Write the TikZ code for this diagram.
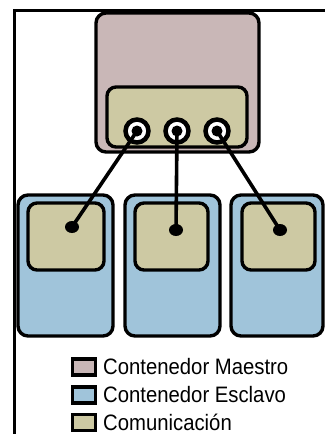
\documentclass[tikz,border=0pt]{standalone}
\usepackage{fontspec}
\setmainfont{Liberation Sans}
\usetikzlibrary{shapes.geometric}
\begin{document}
\begin{tikzpicture}[x=1pt,y=-1pt,
  master/.style={draw=black,line width=3.4pt,fill=masterc,rounded corners=10pt,inner sep=0pt},
  slave/.style={draw=black,line width=3.4pt,fill=slavec,rounded corners=10pt,inner sep=0pt},
  comm/.style={draw=black,line width=3.4pt,fill=commc,rounded corners=9pt,inner sep=0pt},
  port/.style={circle,draw=black,line width=4.5pt,fill=white,minimum size=23pt,inner sep=0pt},
  pin/.style={circle,fill=black,minimum size=11pt,inner sep=0pt},
  sdot/.style={ellipse,fill=black,minimum width=14pt,minimum height=12pt,inner sep=0pt},
  wire/.style={draw=black,line width=3.6pt},
  keybox/.style={draw=black,line width=3.4pt,minimum width=23pt,minimum height=16pt,inner sep=0pt},
  keytext/.style={anchor=west,inner sep=0pt,text height=15pt,text depth=0pt,
    font=\fontsize{20.3}{24}\selectfont}]
\definecolor{masterc}{RGB}{201,183,183}
\definecolor{slavec}{RGB}{160,196,218}
\definecolor{commc}{RGB}{205,201,163}
% page and frame
\fill[white] (0,0) rectangle (325,434);
\useasboundingbox (0,0) rectangle (325,434);
\coordinate (fa) at (14.5,434);
\coordinate (fb) at (14.5,10.3);
\coordinate (fc) at (325,10.3);
\draw[line width=2.4pt] (fa) -- (fb) -- (fc);
% master container with its communication block and ports
\node[master,minimum width=163pt,minimum height=139pt] (m) at (177.5,82.5) {};
\node[comm,minimum width=140pt,minimum height=60pt] (mc) at (177,117) {};
\node[port] (p1) at (137,131) {};
\node[port] (p2) at (177,131) {};
\node[port] (p3) at (217,131) {};
% slave containers
\node[slave,minimum width=95pt,minimum height=141pt] (s1) at (65.5,265.5) {};
\node[slave,minimum width=95pt,minimum height=141pt] (s2) at (172.5,265.5) {};
\node[slave,minimum width=92pt,minimum height=141pt] (s3) at (277,265.5) {};
\node[comm,minimum width=76pt,minimum height=67pt] (c1) at (66,236.5) {};
\node[comm,minimum width=73pt,minimum height=67pt] (c2) at (171.5,236.5) {};
\node[comm,minimum width=73pt,minimum height=67pt] (c3) at (278.5,236.5) {};
\node[sdot] (d1) at (72,227) {};
\node[sdot] (d2) at (176,230) {};
\node[sdot] (d3) at (280,230) {};
% links
\draw[wire] (p1.center) -- (d1.center);
\draw[wire] (p2.center) -- (d2.center);
\draw[wire] (p3.center) -- (d3.center);
\node[pin] (q1) at (p1.center) {};
\node[pin] (q2) at (p2.center) {};
\node[pin] (q3) at (p3.center) {};
% legend
\node[keybox,fill=masterc] (k1) at (84,367) {};
\node[keybox,fill=slavec] (k2) at (84,395) {};
\node[keybox,fill=commc] (k3) at (84,422.5) {};
\node[keytext] (t1) at (103,367) {\scalebox{1}[1.1]{Contenedor Maestro}};
\node[keytext] (t2) at (103,395) {\scalebox{1}[1.1]{Contenedor Esclavo}};
\node[keytext] (t3) at (103,422.5) {\scalebox{1}[1.1]{Comunicación}};
\end{tikzpicture}
\end{document}
